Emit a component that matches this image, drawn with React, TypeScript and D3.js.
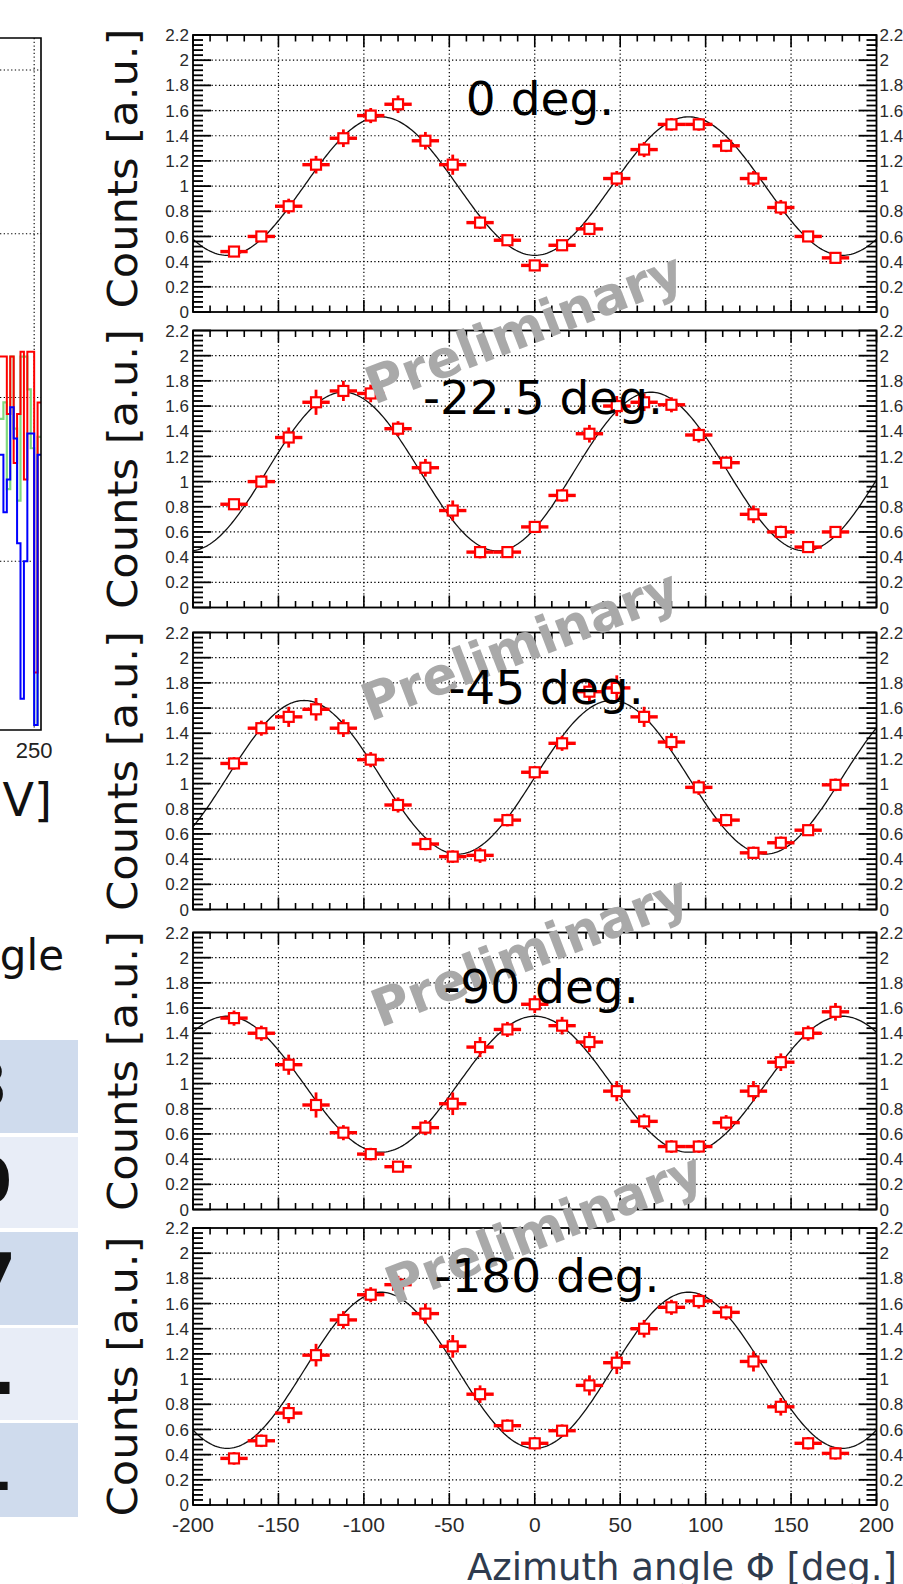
import React from "react";
import * as d3 from "d3";

// ---------- data ----------
const phiBins = [-176, -160, -144, -128, -112, -96, -80, -64, -48, -32, -16, 0, 16, 32, 48, 64, 80, 96, 112, 128, 144, 160, 176];
const panelLabels = ["0 deg.", "-22.5 deg.", "-45 deg.", "-90 deg.", "-180 deg."];

const counts0 = [0.48, 0.60, 0.84, 1.17, 1.38, 1.56, 1.65, 1.36, 1.17, 0.71, 0.57, 0.37, 0.53, 0.66, 1.06, 1.29, 1.49, 1.49, 1.32, 1.06, 0.83, 0.60, 0.43];
const counts22 = [0.82, 1.00, 1.35, 1.63, 1.72, 1.70, 1.42, 1.11, 0.77, 0.44, 0.44, 0.64, 0.89, 1.38, 1.60, 1.63, 1.61, 1.37, 1.15, 0.74, 0.60, 0.48, 0.60];
const counts45 = [1.16, 1.44, 1.53, 1.59, 1.44, 1.19, 0.83, 0.52, 0.42, 0.43, 0.71, 1.09, 1.32, 1.73, 1.76, 1.53, 1.33, 0.97, 0.71, 0.45, 0.53, 0.63, 0.99];
const counts90 = [1.52, 1.40, 1.15, 0.83, 0.61, 0.44, 0.34, 0.65, 0.84, 1.29, 1.43, 1.63, 1.46, 1.33, 0.94, 0.70, 0.50, 0.50, 0.69, 0.94, 1.17, 1.40, 1.57];
const counts180 = [0.37, 0.51, 0.73, 1.19, 1.47, 1.67, 1.75, 1.52, 1.26, 0.88, 0.63, 0.49, 0.59, 0.95, 1.13, 1.40, 1.57, 1.62, 1.53, 1.14, 0.78, 0.49, 0.41];

const errs0 = [0.04, 0.04, 0.06, 0.07, 0.07, 0.06, 0.07, 0.07, 0.08, 0.05, 0.04, 0.04, 0.04, 0.05, 0.06, 0.06, 0.05, 0.05, 0.05, 0.06, 0.06, 0.04, 0.04];
const errs22 = [0.04, 0.05, 0.08, 0.10, 0.08, 0.07, 0.06, 0.07, 0.08, 0.05, 0.04, 0.04, 0.05, 0.07, 0.08, 0.07, 0.06, 0.06, 0.05, 0.07, 0.05, 0.04, 0.04];
const errs45 = [0.05, 0.06, 0.08, 0.09, 0.07, 0.06, 0.06, 0.05, 0.05, 0.06, 0.05, 0.05, 0.06, 0.09, 0.10, 0.08, 0.07, 0.06, 0.05, 0.05, 0.05, 0.04, 0.05];
const errs90 = [0.06, 0.06, 0.08, 0.10, 0.06, 0.05, 0.04, 0.06, 0.09, 0.08, 0.06, 0.07, 0.07, 0.08, 0.08, 0.06, 0.05, 0.05, 0.06, 0.08, 0.07, 0.06, 0.07];
const errs180 = [0.05, 0.05, 0.08, 0.09, 0.07, 0.06, 0.07, 0.08, 0.09, 0.07, 0.05, 0.05, 0.05, 0.08, 0.09, 0.07, 0.06, 0.06, 0.06, 0.08, 0.07, 0.05, 0.05];

const allCounts = [counts0, counts22, counts45, counts90, counts180];
const allErrs = [errs0, errs22, errs45, errs90, errs180];

// fit: offset + amp * cos(2 (phi - phase))
const fitOffset = [1.0, 1.08, 1.05, 0.995, 1.07];
const fitAmp = [0.55, 0.63, 0.61, 0.54, 0.62];
const fitPhase = [90, 68, 45, 0, 90];

const yMajorTicks = [0, 0.2, 0.4, 0.6, 0.8, 1, 1.2, 1.4, 1.6, 1.8, 2, 2.2];
const yTickLabels = ["0", "0.2", "0.4", "0.6", "0.8", "1", "1.2", "1.4", "1.6", "1.8", "2", "2.2"];
const xMajorTicks = [-200, -150, -100, -50, 0, 50, 100, 150, 200];
const xTickLabels = ["-200", "-150", "-100", "-50", "0", "50", "100", "150", "200"];

// left partial histogram (cut off on the slide)
const histEdges = [225, 227.5, 230, 232.5, 235, 237.5, 240, 242.5, 245, 247.5, 250, 252.5, 255];
const histRed = [2.25, 2.25, 1.9, 2.25, 1.6, 1.9, 2.28, 1.5, 2.28, 2.28, 0.32, 1.97];
const histBlue = [1.65, 1.3, 1.5, 1.94, 1.75, 1.11, 0.16, 1.0, 1.78, 1.78, 0.0, 1.65];
const histGreen = [1.87, 1.97, 1.44, 2.25, 1.81, 1.37, 2.25, 2.25, 2.05, 1.69, 0.0, 1.76];
const histGridY = [1, 2, 3, 4];

// left partial table (only last characters visible)
const tableChars = ["3", "0", "7", ".", "1"];

// ---------- layout ----------
const W = 903;
const H = 1584;
const PANEL_TOPS = [35, 330.5, 632.5, 932.5, 1228];
const PH = 277;
const LABEL_BASE = [115, 414, 704, 1003, 1292];
const LABEL_X = [540, 543, 546, 541, 547];
const TITLE_SHIFT = [-5, 0, 0, 0, 10];
const WATERMARKS = [
  [374, 405],
  [370, 722],
  [380, 1028],
  [394, 1305],
];
const TABLE_ROWS = [
  [1040, 1133],
  [1137, 1228],
  [1232, 1325],
  [1328, 1420],
  [1423, 1517],
];
const TABLE_TEXT_END = [8, 12, 16, 16, 12];

const TICK_FONT = "'Liberation Sans', Arial, sans-serif";
const HAND_FONT = "'DejaVu Sans', sans-serif";

const x = d3.scaleLinear().domain([-200, 200]).range([193, 876.5]);

function Panel({ i }: { i: number }) {
  const top = PANEL_TOPS[i];
  const y = d3.scaleLinear().domain([0, 2.2]).range([top + PH, top]);
  const left = x(-200);
  const right = x(200);
  const counts = allCounts[i];
  const errs = allErrs[i];

  const phis = d3.range(-200, 200.01, 1);
  const fitLine = d3
    .line<number>()
    .x((p) => x(p))
    .y((p) => y(fitOffset[i] + fitAmp[i] * Math.cos((2 * (p - fitPhase[i]) * Math.PI) / 180)))
    .curve(d3.curveLinear);

  const yMinor = d3.range(0, 2.2001, 0.04);
  const xMinor = d3.range(-200, 200.01, 10);
  const dot = "1.3,2.4";

  return (
    <g>
      {xMajorTicks.slice(1, -1).map((t) => (
        <line key={"gx" + t} x1={x(t)} x2={x(t)} y1={top} y2={top + PH} stroke="#000" strokeWidth={1.2} strokeDasharray={dot} />
      ))}
      {yMajorTicks.slice(1, -1).map((t) => (
        <line key={"gy" + t} x1={left} x2={right} y1={y(t)} y2={y(t)} stroke="#000" strokeWidth={1.2} strokeDasharray={dot} />
      ))}
      <path d={fitLine(phis) || ""} fill="none" stroke="#111" strokeWidth={1.3} />
      {phiBins.map((p, k) => {
        const cx = x(p);
        const cy = y(counts[k]);
        return (
          <g key={"p" + k}>
            <line x1={x(p - 8)} x2={x(p + 8)} y1={cy} y2={cy} stroke="#ff0000" strokeWidth={3.4} />
            <line x1={cx} x2={cx} y1={y(counts[k] - errs[k])} y2={y(counts[k] + errs[k])} stroke="#ff0000" strokeWidth={2.8} />
            <rect x={cx - 5} y={cy - 5} width={10} height={10} fill="#fff" stroke="#ff0000" strokeWidth={2.2} />
          </g>
        );
      })}
      <rect x={left} y={top} width={right - left} height={PH} fill="none" stroke="#000" strokeWidth={1.8} />
      {yMinor.map((t, k) => {
        const major = k % 5 === 0;
        const len = major ? 18 : 10;
        return (
          <g key={"yt" + k}>
            <line x1={left} x2={left + len} y1={y(t)} y2={y(t)} stroke="#000" strokeWidth={1.8} />
            <line x1={right} x2={right - len} y1={y(t)} y2={y(t)} stroke="#000" strokeWidth={1.8} />
          </g>
        );
      })}
      {xMinor.map((t, k) => {
        const major = k % 5 === 0;
        const len = major ? 12 : 6.5;
        return (
          <g key={"xt" + k}>
            <line x1={x(t)} x2={x(t)} y1={top} y2={top + len} stroke="#000" strokeWidth={1.6} />
            <line x1={x(t)} x2={x(t)} y1={top + PH} y2={top + PH - len} stroke="#000" strokeWidth={1.6} />
          </g>
        );
      })}
      {yMajorTicks.map((t, k) => (
        <g key={"yl" + k}>
          <text x={left - 4} y={y(t)} dy="0.36em" textAnchor="end" fontFamily={TICK_FONT} fontSize={17} fill="#2a2a2a">
            {yTickLabels[k]}
          </text>
          <text x={right + 3} y={y(t)} dy="0.36em" textAnchor="start" fontFamily={TICK_FONT} fontSize={17} fill="#2a2a2a">
            {yTickLabels[k]}
          </text>
        </g>
      ))}
      <text
        transform={`translate(137, ${top + PH / 2 + TITLE_SHIFT[i]}) rotate(-90)`}
        textAnchor="middle"
        fontFamily={HAND_FONT}
        fontSize={40}
        fill="#111"
        textLength={280}
        lengthAdjust="spacingAndGlyphs"
      >
        Counts [a.u.]
      </text>
    </g>
  );
}

function LeftStuff() {
  const hx = d3.scaleLinear().domain([225, 255]).range([0, 41]);
  const hy = d3.scaleLinear().domain([0, 4]).range([725, 70]);
  const step = (vals: number[]) => {
    const pts: [number, number][] = [];
    vals.forEach((v, k) => {
      pts.push([hx(histEdges[k]), hy(v)]);
    });
    pts.push([hx(histEdges[histEdges.length - 1]), hy(vals[vals.length - 1])]);
    return d3.line().curve(d3.curveStepAfter)(pts) || "";
  };
  const dot = "1.3,2.4";
  return (
    <g>
      <defs>
        <clipPath id="histclip">
          <rect x={-5} y={38} width={46} height={692} />
        </clipPath>
      </defs>
      {histGridY.map((g) => (
        <line key={"hg" + g} x1={0} x2={41} y1={hy(g)} y2={hy(g)} stroke="#000" strokeWidth={1.1} strokeDasharray={dot} />
      ))}
      <line x1={hx(250)} x2={hx(250)} y1={38} y2={730} stroke="#000" strokeWidth={1.1} strokeDasharray={dot} />
      <g clipPath="url(#histclip)">
        <path d={step(histGreen)} fill="none" stroke="#7fd97f" strokeWidth={2.2} />
        <path d={step(histRed)} fill="none" stroke="#ff0000" strokeWidth={2} />
        <path d={step(histBlue)} fill="none" stroke="#0000ff" strokeWidth={2} />
      </g>
      <polyline points="0,38 41,38 41,730 0,730" fill="none" stroke="#000" strokeWidth={1.6} />
      <text x={hx(250)} y={758} textAnchor="middle" fontFamily={TICK_FONT} fontSize={22} fill="#222">
        250
      </text>
      <text x={52} y={816} textAnchor="end" fontFamily={HAND_FONT} fontSize={46} fill="#111">
        V]
      </text>
      <text x={64} y={970} textAnchor="end" fontFamily={HAND_FONT} fontSize={42} fill="#111">
        gle
      </text>
      {TABLE_ROWS.map((r, k) => (
        <g key={"tr" + k}>
          <rect x={-10} y={r[0]} width={88} height={r[1] - r[0]} fill={k % 2 === 0 ? "#cfdbed" : "#e8edf7"} />
          <text x={TABLE_TEXT_END[k]} y={(r[0] + r[1]) / 2 + 20} textAnchor="end" fontFamily={HAND_FONT} fontWeight="bold" fontSize={64} fill="#111">
            {tableChars[k]}
          </text>
        </g>
      ))}
    </g>
  );
}

export default function App() {
  const bottom = PANEL_TOPS[4] + PH;
  return (
    <svg width={W} height={H} viewBox={`0 0 ${W} ${H}`} style={{ position: "absolute", left: 0, top: 0, background: "#fff" }}>
      <rect x={0} y={0} width={W} height={H} fill="#fff" />
      <LeftStuff />
      {PANEL_TOPS.map((_, i) => (
        <Panel key={i} i={i} />
      ))}
      {xMajorTicks.map((t, k) => (
        <text key={"xl" + k} x={x(t)} y={bottom + 27} textAnchor="middle" fontFamily={TICK_FONT} fontSize={21} fill="#2a2a2a">
          {xTickLabels[k]}
        </text>
      ))}
      <text x={467} y={1580} fontFamily={HAND_FONT} fontSize={37} fill="#2e3b4e" textLength={430} lengthAdjust="spacingAndGlyphs">
        Azimuth angle Φ [deg.]
      </text>
      {WATERMARKS.map((w, k) => (
        <text
          key={"wm" + k}
          transform={`translate(${w[0]}, ${w[1]}) rotate(-21)`}
          fontFamily={HAND_FONT}
          fontWeight="bold"
          fontSize={52}
          fill="#a9a9a9"
          textLength={335}
          lengthAdjust="spacingAndGlyphs"
        >
          Preliminary
        </text>
      ))}
      {panelLabels.map((l, i) => (
        <text key={"pl" + i} x={LABEL_X[i]} y={LABEL_BASE[i]} textAnchor="middle" fontFamily={HAND_FONT} fontSize={47} fill="#000">
          {l}
        </text>
      ))}
    </svg>
  );
}
